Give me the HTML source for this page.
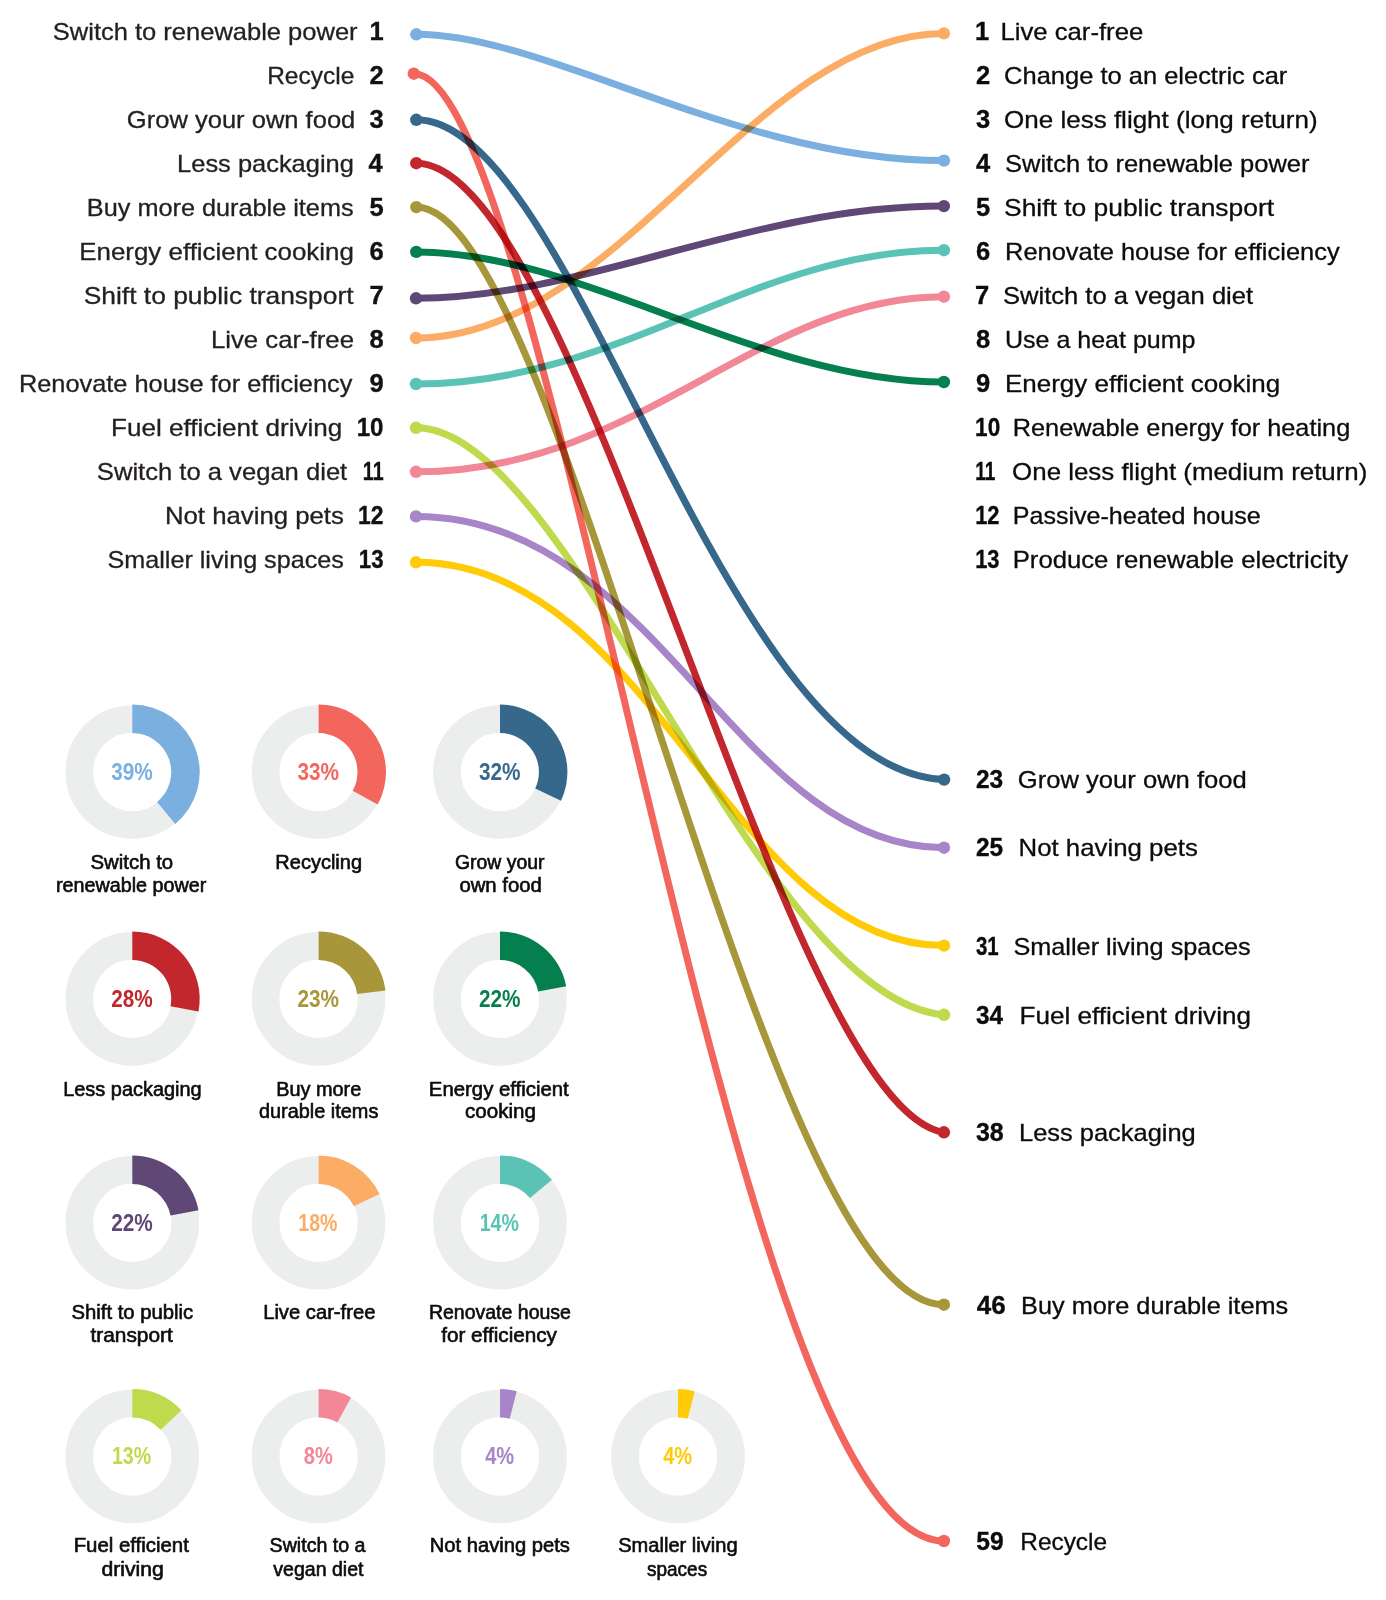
<!DOCTYPE html>
<html lang="en"><head><meta charset="utf-8"><title>Perceived vs actual impact of climate actions</title>
<style>
html,body{margin:0;padding:0;background:#fff}
svg{display:block;font-family:"Liberation Sans",Arial,sans-serif}
</style></head><body>
<svg width="1386" height="1600" viewBox="0 0 1386 1600">
<rect width="1386" height="1600" fill="#fff"/>
<g id="donuts">
<circle cx="132.3" cy="772" r="53.00" fill="none" stroke="#ECEEED" stroke-width="27.60"/>
<path d="M132.30,704.60 A67.40,67.40 0 0 1 175.26,823.93 L157.10,801.97 A38.90,38.90 0 0 0 132.30,733.10 Z" fill="#7AAFE0"/>
<circle cx="318.6" cy="772" r="53.00" fill="none" stroke="#ECEEED" stroke-width="27.60"/>
<path d="M318.60,704.60 A67.40,67.40 0 0 1 377.66,804.47 L352.69,790.74 A38.90,38.90 0 0 0 318.60,733.10 Z" fill="#F2665E"/>
<circle cx="500" cy="772" r="53.00" fill="none" stroke="#ECEEED" stroke-width="27.60"/>
<path d="M500.00,704.60 A67.40,67.40 0 0 1 560.99,800.70 L535.20,788.56 A38.90,38.90 0 0 0 500.00,733.10 Z" fill="#36688C"/>
<circle cx="132.3" cy="998.9" r="53.00" fill="none" stroke="#ECEEED" stroke-width="27.60"/>
<path d="M132.30,931.50 A67.40,67.40 0 0 1 198.51,1011.53 L170.51,1006.19 A38.90,38.90 0 0 0 132.30,960.00 Z" fill="#C1272D"/>
<circle cx="318.6" cy="998.9" r="53.00" fill="none" stroke="#ECEEED" stroke-width="27.60"/>
<path d="M318.60,931.50 A67.40,67.40 0 0 1 385.47,990.45 L357.19,994.02 A38.90,38.90 0 0 0 318.60,960.00 Z" fill="#A8963A"/>
<circle cx="500" cy="998.9" r="53.00" fill="none" stroke="#ECEEED" stroke-width="27.60"/>
<path d="M500.00,931.50 A67.40,67.40 0 0 1 566.21,986.27 L538.21,991.61 A38.90,38.90 0 0 0 500.00,960.00 Z" fill="#067F4E"/>
<circle cx="132.3" cy="1222.8" r="53.00" fill="none" stroke="#ECEEED" stroke-width="27.60"/>
<path d="M132.30,1155.40 A67.40,67.40 0 0 1 198.51,1210.17 L170.51,1215.51 A38.90,38.90 0 0 0 132.30,1183.90 Z" fill="#5F4876"/>
<circle cx="318.6" cy="1222.8" r="53.00" fill="none" stroke="#ECEEED" stroke-width="27.60"/>
<path d="M318.60,1155.40 A67.40,67.40 0 0 1 379.59,1194.10 L353.80,1206.24 A38.90,38.90 0 0 0 318.60,1183.90 Z" fill="#FBAD65"/>
<circle cx="500" cy="1222.8" r="53.00" fill="none" stroke="#ECEEED" stroke-width="27.60"/>
<path d="M500.00,1155.40 A67.40,67.40 0 0 1 551.93,1179.84 L529.97,1198.00 A38.90,38.90 0 0 0 500.00,1183.90 Z" fill="#5BC3B5"/>
<circle cx="132.3" cy="1456.5" r="53.00" fill="none" stroke="#ECEEED" stroke-width="27.60"/>
<path d="M132.30,1389.10 A67.40,67.40 0 0 1 181.43,1410.36 L160.66,1429.87 A38.90,38.90 0 0 0 132.30,1417.60 Z" fill="#BFDA4D"/>
<circle cx="318.6" cy="1456.5" r="53.00" fill="none" stroke="#ECEEED" stroke-width="27.60"/>
<path d="M318.60,1389.10 A67.40,67.40 0 0 1 351.07,1397.44 L337.34,1422.41 A38.90,38.90 0 0 0 318.60,1417.60 Z" fill="#F28797"/>
<circle cx="500" cy="1456.5" r="53.00" fill="none" stroke="#ECEEED" stroke-width="27.60"/>
<path d="M500.00,1389.10 A67.40,67.40 0 0 1 516.76,1391.22 L509.67,1418.82 A38.90,38.90 0 0 0 500.00,1417.60 Z" fill="#A785C8"/>
<circle cx="678" cy="1456.5" r="53.00" fill="none" stroke="#ECEEED" stroke-width="27.60"/>
<path d="M678.00,1389.10 A67.40,67.40 0 0 1 694.76,1391.22 L687.67,1418.82 A38.90,38.90 0 0 0 678.00,1417.60 Z" fill="#FFCB08"/>
</g>
<g id="curves" style="isolation:isolate">
<g style="mix-blend-mode:multiply" fill="#7AAFE0"><path d="M416.3,34.3 C547.4,34.3 738.3,160.6 944.0,160.6" fill="none" stroke="#7AAFE0" stroke-width="7" stroke-linecap="round"/><circle cx="416.3" cy="34.3" r="6.2"/><circle cx="944.0" cy="160.6" r="6.2"/></g>
<g style="mix-blend-mode:multiply" fill="#F2665E"><path d="M413.8,73.7 C551.2,73.7 729.2,1541.0 943.9,1541.0" fill="none" stroke="#F2665E" stroke-width="7" stroke-linecap="round"/><circle cx="413.8" cy="73.7" r="6.2"/><circle cx="943.9" cy="1541.0" r="6.2"/></g>
<g style="mix-blend-mode:multiply" fill="#36688C"><path d="M416.3,119.8 C575.5,119.8 720.2,770.1 944.1,779.6" fill="none" stroke="#36688C" stroke-width="7" stroke-linecap="round"/><circle cx="416.3" cy="119.8" r="6.2"/><circle cx="944.1" cy="779.6" r="6.2"/></g>
<g style="mix-blend-mode:multiply" fill="#C1272D"><path d="M416.3,163.2 C581.2,163.2 782.7,1107.9 943.9,1132.3" fill="none" stroke="#C1272D" stroke-width="7" stroke-linecap="round"/><circle cx="416.3" cy="163.2" r="6.2"/><circle cx="943.9" cy="1132.3" r="6.2"/></g>
<g style="mix-blend-mode:multiply" fill="#A8963A"><path d="M416.3,207.1 C564.4,207.1 761.0,1304.7 943.9,1304.7" fill="none" stroke="#A8963A" stroke-width="7" stroke-linecap="round"/><circle cx="416.3" cy="207.1" r="6.2"/><circle cx="943.9" cy="1304.7" r="6.2"/></g>
<g style="mix-blend-mode:multiply" fill="#067F4E"><path d="M416.3,251.9 C581.3,251.9 759.1,382.0 943.9,382.0" fill="none" stroke="#067F4E" stroke-width="7" stroke-linecap="round"/><circle cx="416.3" cy="251.9" r="6.2"/><circle cx="943.9" cy="382.0" r="6.2"/></g>
<g style="mix-blend-mode:multiply" fill="#5F4876"><path d="M416.0,298.3 C583.3,298.3 750.0,206.1 943.9,206.1" fill="none" stroke="#5F4876" stroke-width="7" stroke-linecap="round"/><circle cx="416.0" cy="298.3" r="6.2"/><circle cx="943.9" cy="206.1" r="6.2"/></g>
<g style="mix-blend-mode:multiply" fill="#FBAD65"><path d="M416.0,338.0 C616.9,338.0 755.1,33.4 943.9,33.4" fill="none" stroke="#FBAD65" stroke-width="7" stroke-linecap="round"/><circle cx="416.0" cy="338.0" r="6.2"/><circle cx="943.9" cy="33.4" r="6.2"/></g>
<g style="mix-blend-mode:multiply" fill="#5BC3B5"><path d="M416.0,384.0 C620.7,384.0 751.9,250.2 943.9,250.2" fill="none" stroke="#5BC3B5" stroke-width="7" stroke-linecap="round"/><circle cx="416.0" cy="384.0" r="6.2"/><circle cx="943.9" cy="250.2" r="6.2"/></g>
<g style="mix-blend-mode:multiply" fill="#BFDA4D"><path d="M416.0,427.8 C572.4,427.8 755.7,998.1 944.0,1014.8" fill="none" stroke="#BFDA4D" stroke-width="7" stroke-linecap="round"/><circle cx="416.0" cy="427.8" r="6.2"/><circle cx="944.0" cy="1014.8" r="6.2"/></g>
<g style="mix-blend-mode:multiply" fill="#F28797"><path d="M416.0,471.8 C639.7,471.8 757.0,296.7 943.9,296.7" fill="none" stroke="#F28797" stroke-width="7" stroke-linecap="round"/><circle cx="416.0" cy="471.8" r="6.2"/><circle cx="943.9" cy="296.7" r="6.2"/></g>
<g style="mix-blend-mode:multiply" fill="#A785C8"><path d="M416.0,516.4 C657.7,516.4 736.0,847.7 944.0,847.7" fill="none" stroke="#A785C8" stroke-width="7" stroke-linecap="round"/><circle cx="416.0" cy="516.4" r="6.2"/><circle cx="944.0" cy="847.7" r="6.2"/></g>
<g style="mix-blend-mode:multiply" fill="#FFCB08"><path d="M416.0,562.3 C652.4,562.3 731.1,945.6 944.0,945.6" fill="none" stroke="#FFCB08" stroke-width="7" stroke-linecap="round"/><circle cx="416.0" cy="562.3" r="6.2"/><circle cx="944.0" cy="945.6" r="6.2"/></g>
</g>
<g id="labels">
<text x="52.84" y="39.6" font-size="24" textLength="304.75" lengthAdjust="spacingAndGlyphs" fill="#231F20" stroke="#231F20" stroke-width="0.3">Switch to renewable power</text>
<text x="369.40" y="39.6" font-size="25.5" fill="#141112" stroke="#141112" stroke-width="0.35" font-weight="bold">1</text>
<text x="267.18" y="83.7" font-size="24" textLength="87.07" lengthAdjust="spacingAndGlyphs" fill="#231F20" stroke="#231F20" stroke-width="0.3">Recycle</text>
<text x="369.40" y="83.7" font-size="25.5" fill="#141112" stroke="#141112" stroke-width="0.35" font-weight="bold">2</text>
<text x="126.84" y="127.8" font-size="24" textLength="228.50" lengthAdjust="spacingAndGlyphs" fill="#231F20" stroke="#231F20" stroke-width="0.3">Grow your own food</text>
<text x="369.40" y="127.8" font-size="25.5" fill="#141112" stroke="#141112" stroke-width="0.35" font-weight="bold">3</text>
<text x="177.14" y="171.8" font-size="24" textLength="176.69" lengthAdjust="spacingAndGlyphs" fill="#231F20" stroke="#231F20" stroke-width="0.3">Less packaging</text>
<text x="368.40" y="171.8" font-size="25.5" fill="#141112" stroke="#141112" stroke-width="0.35" font-weight="bold">4</text>
<text x="86.85" y="215.8" font-size="24" textLength="266.75" lengthAdjust="spacingAndGlyphs" fill="#231F20" stroke="#231F20" stroke-width="0.3">Buy more durable items</text>
<text x="369.40" y="215.8" font-size="25.5" fill="#141112" stroke="#141112" stroke-width="0.35" font-weight="bold">5</text>
<text x="79.22" y="259.9" font-size="24" textLength="274.63" lengthAdjust="spacingAndGlyphs" fill="#231F20" stroke="#231F20" stroke-width="0.3">Energy efficient cooking</text>
<text x="369.40" y="259.9" font-size="25.5" fill="#141112" stroke="#141112" stroke-width="0.35" font-weight="bold">6</text>
<text x="83.70" y="303.9" font-size="24" textLength="269.83" lengthAdjust="spacingAndGlyphs" fill="#231F20" stroke="#231F20" stroke-width="0.3">Shift to public transport</text>
<text x="369.40" y="303.9" font-size="25.5" fill="#141112" stroke="#141112" stroke-width="0.35" font-weight="bold">7</text>
<text x="210.93" y="348.0" font-size="24" textLength="143.05" lengthAdjust="spacingAndGlyphs" fill="#231F20" stroke="#231F20" stroke-width="0.3">Live car-free</text>
<text x="369.40" y="348.0" font-size="25.5" fill="#141112" stroke="#141112" stroke-width="0.35" font-weight="bold">8</text>
<text x="18.94" y="392.0" font-size="24" textLength="333.46" lengthAdjust="spacingAndGlyphs" fill="#231F20" stroke="#231F20" stroke-width="0.3">Renovate house for efficiency</text>
<text x="369.40" y="392.0" font-size="25.5" fill="#141112" stroke="#141112" stroke-width="0.35" font-weight="bold">9</text>
<text x="111.01" y="436.1" font-size="24" textLength="231.35" lengthAdjust="spacingAndGlyphs" fill="#231F20" stroke="#231F20" stroke-width="0.3">Fuel efficient driving</text>
<text x="356.65" y="436.1" font-size="25.5" textLength="26.92" lengthAdjust="spacingAndGlyphs" fill="#141112" stroke="#141112" stroke-width="0.35" font-weight="bold">10</text>
<text x="96.83" y="480.1" font-size="24" textLength="250.41" lengthAdjust="spacingAndGlyphs" fill="#231F20" stroke="#231F20" stroke-width="0.3">Switch to a vegan diet</text>
<text x="362.83" y="480.1" font-size="25.5" textLength="20.71" lengthAdjust="spacingAndGlyphs" fill="#141112" stroke="#141112" stroke-width="0.35" font-weight="bold">11</text>
<text x="164.93" y="524.2" font-size="24" textLength="178.97" lengthAdjust="spacingAndGlyphs" fill="#231F20" stroke="#231F20" stroke-width="0.3">Not having pets</text>
<text x="358.10" y="524.2" font-size="25.5" textLength="25.46" lengthAdjust="spacingAndGlyphs" fill="#141112" stroke="#141112" stroke-width="0.35" font-weight="bold">12</text>
<text x="107.45" y="568.2" font-size="24" textLength="236.45" lengthAdjust="spacingAndGlyphs" fill="#231F20" stroke="#231F20" stroke-width="0.3">Smaller living spaces</text>
<text x="358.83" y="568.2" font-size="25.5" textLength="24.73" lengthAdjust="spacingAndGlyphs" fill="#141112" stroke="#141112" stroke-width="0.35" font-weight="bold">13</text>
<text x="975.00" y="39.6" font-size="25.5" fill="#0c0c0c" stroke="#0c0c0c" stroke-width="0.35" font-weight="bold">1</text>
<text x="1000.43" y="39.6" font-size="24" textLength="142.84" lengthAdjust="spacingAndGlyphs" fill="#0c0c0c" stroke="#0c0c0c" stroke-width="0.3">Live car-free</text>
<text x="976.00" y="83.7" font-size="25.5" fill="#0c0c0c" stroke="#0c0c0c" stroke-width="0.35" font-weight="bold">2</text>
<text x="1004.14" y="83.7" font-size="24" textLength="283.15" lengthAdjust="spacingAndGlyphs" fill="#0c0c0c" stroke="#0c0c0c" stroke-width="0.3">Change to an electric car</text>
<text x="976.00" y="127.8" font-size="25.5" fill="#0c0c0c" stroke="#0c0c0c" stroke-width="0.35" font-weight="bold">3</text>
<text x="1004.12" y="127.8" font-size="24" textLength="313.46" lengthAdjust="spacingAndGlyphs" fill="#0c0c0c" stroke="#0c0c0c" stroke-width="0.3">One less flight (long return)</text>
<text x="976.00" y="171.8" font-size="25.5" fill="#0c0c0c" stroke="#0c0c0c" stroke-width="0.35" font-weight="bold">4</text>
<text x="1005.04" y="171.8" font-size="24" textLength="304.45" lengthAdjust="spacingAndGlyphs" fill="#0c0c0c" stroke="#0c0c0c" stroke-width="0.3">Switch to renewable power</text>
<text x="976.00" y="215.8" font-size="25.5" fill="#0c0c0c" stroke="#0c0c0c" stroke-width="0.35" font-weight="bold">5</text>
<text x="1004.10" y="215.8" font-size="24" textLength="269.93" lengthAdjust="spacingAndGlyphs" fill="#0c0c0c" stroke="#0c0c0c" stroke-width="0.3">Shift to public transport</text>
<text x="976.00" y="259.9" font-size="25.5" fill="#0c0c0c" stroke="#0c0c0c" stroke-width="0.35" font-weight="bold">6</text>
<text x="1005.04" y="259.9" font-size="24" textLength="334.56" lengthAdjust="spacingAndGlyphs" fill="#0c0c0c" stroke="#0c0c0c" stroke-width="0.3">Renovate house for efficiency</text>
<text x="975.00" y="303.9" font-size="25.5" fill="#0c0c0c" stroke="#0c0c0c" stroke-width="0.35" font-weight="bold">7</text>
<text x="1002.93" y="303.9" font-size="24" textLength="250.21" lengthAdjust="spacingAndGlyphs" fill="#0c0c0c" stroke="#0c0c0c" stroke-width="0.3">Switch to a vegan diet</text>
<text x="976.00" y="348.0" font-size="25.5" fill="#0c0c0c" stroke="#0c0c0c" stroke-width="0.35" font-weight="bold">8</text>
<text x="1005.06" y="348.0" font-size="24" textLength="190.40" lengthAdjust="spacingAndGlyphs" fill="#0c0c0c" stroke="#0c0c0c" stroke-width="0.3">Use a heat pump</text>
<text x="976.00" y="392.0" font-size="25.5" fill="#0c0c0c" stroke="#0c0c0c" stroke-width="0.35" font-weight="bold">9</text>
<text x="1005.02" y="392.0" font-size="24" textLength="275.14" lengthAdjust="spacingAndGlyphs" fill="#0c0c0c" stroke="#0c0c0c" stroke-width="0.3">Energy efficient cooking</text>
<text x="975.12" y="436.1" font-size="25.5" textLength="25.04" lengthAdjust="spacingAndGlyphs" fill="#0c0c0c" stroke="#0c0c0c" stroke-width="0.35" font-weight="bold">10</text>
<text x="1012.75" y="436.1" font-size="24" textLength="337.47" lengthAdjust="spacingAndGlyphs" fill="#0c0c0c" stroke="#0c0c0c" stroke-width="0.3">Renewable energy for heating</text>
<text x="975.25" y="480.1" font-size="25.5" textLength="20.18" lengthAdjust="spacingAndGlyphs" fill="#0c0c0c" stroke="#0c0c0c" stroke-width="0.35" font-weight="bold">11</text>
<text x="1012.12" y="480.1" font-size="24" textLength="355.25" lengthAdjust="spacingAndGlyphs" fill="#0c0c0c" stroke="#0c0c0c" stroke-width="0.3">One less flight (medium return)</text>
<text x="975.14" y="524.2" font-size="25.5" textLength="24.31" lengthAdjust="spacingAndGlyphs" fill="#0c0c0c" stroke="#0c0c0c" stroke-width="0.35" font-weight="bold">12</text>
<text x="1012.76" y="524.2" font-size="24" textLength="247.91" lengthAdjust="spacingAndGlyphs" fill="#0c0c0c" stroke="#0c0c0c" stroke-width="0.3">Passive-heated house</text>
<text x="975.14" y="568.2" font-size="25.5" textLength="24.31" lengthAdjust="spacingAndGlyphs" fill="#0c0c0c" stroke="#0c0c0c" stroke-width="0.35" font-weight="bold">13</text>
<text x="1012.73" y="568.2" font-size="24" textLength="335.47" lengthAdjust="spacingAndGlyphs" fill="#0c0c0c" stroke="#0c0c0c" stroke-width="0.3">Produce renewable electricity</text>
<text x="975.90" y="788.0" font-size="25.5" textLength="27.17" lengthAdjust="spacingAndGlyphs" fill="#0c0c0c" stroke="#0c0c0c" stroke-width="0.35" font-weight="bold">23</text>
<text x="1017.83" y="788.0" font-size="24" textLength="228.90" lengthAdjust="spacingAndGlyphs" fill="#0c0c0c" stroke="#0c0c0c" stroke-width="0.3">Grow your own food</text>
<text x="975.90" y="855.5" font-size="25.5" textLength="27.17" lengthAdjust="spacingAndGlyphs" fill="#0c0c0c" stroke="#0c0c0c" stroke-width="0.35" font-weight="bold">25</text>
<text x="1018.52" y="855.5" font-size="24" textLength="179.38" lengthAdjust="spacingAndGlyphs" fill="#0c0c0c" stroke="#0c0c0c" stroke-width="0.3">Not having pets</text>
<text x="975.90" y="954.8" font-size="25.5" textLength="22.75" lengthAdjust="spacingAndGlyphs" fill="#0c0c0c" stroke="#0c0c0c" stroke-width="0.35" font-weight="bold">31</text>
<text x="1013.45" y="954.8" font-size="24" textLength="237.25" lengthAdjust="spacingAndGlyphs" fill="#0c0c0c" stroke="#0c0c0c" stroke-width="0.3">Smaller living spaces</text>
<text x="975.90" y="1023.5" font-size="25.5" textLength="27.02" lengthAdjust="spacingAndGlyphs" fill="#0c0c0c" stroke="#0c0c0c" stroke-width="0.35" font-weight="bold">34</text>
<text x="1019.51" y="1023.5" font-size="24" textLength="231.45" lengthAdjust="spacingAndGlyphs" fill="#0c0c0c" stroke="#0c0c0c" stroke-width="0.3">Fuel efficient driving</text>
<text x="975.90" y="1140.5" font-size="25.5" textLength="27.78" lengthAdjust="spacingAndGlyphs" fill="#0c0c0c" stroke="#0c0c0c" stroke-width="0.35" font-weight="bold">38</text>
<text x="1019.04" y="1140.5" font-size="24" textLength="176.69" lengthAdjust="spacingAndGlyphs" fill="#0c0c0c" stroke="#0c0c0c" stroke-width="0.3">Less packaging</text>
<text x="976.70" y="1314.2" font-size="25.5" textLength="28.89" lengthAdjust="spacingAndGlyphs" fill="#0c0c0c" stroke="#0c0c0c" stroke-width="0.35" font-weight="bold">46</text>
<text x="1021.05" y="1314.2" font-size="24" textLength="267.15" lengthAdjust="spacingAndGlyphs" fill="#0c0c0c" stroke="#0c0c0c" stroke-width="0.3">Buy more durable items</text>
<text x="976.30" y="1550.3" font-size="25.5" textLength="27.38" lengthAdjust="spacingAndGlyphs" fill="#0c0c0c" stroke="#0c0c0c" stroke-width="0.35" font-weight="bold">59</text>
<text x="1020.28" y="1550.3" font-size="24" textLength="86.77" lengthAdjust="spacingAndGlyphs" fill="#0c0c0c" stroke="#0c0c0c" stroke-width="0.3">Recycle</text>
<text x="90.50" y="869.0" font-size="19.5" textLength="82.64" lengthAdjust="spacingAndGlyphs" fill="#0c0c0c" stroke="#0c0c0c" stroke-width="0.6">Switch to</text>
<text x="55.99" y="892.0" font-size="19.5" textLength="150.40" lengthAdjust="spacingAndGlyphs" fill="#0c0c0c" stroke="#0c0c0c" stroke-width="0.6">renewable power</text>
<text x="111.20" y="779.8" font-size="23.6" textLength="41.58" lengthAdjust="spacingAndGlyphs" fill="#7AAFE0" font-weight="bold">39%</text>
<text x="275.37" y="869.0" font-size="19.5" textLength="86.69" lengthAdjust="spacingAndGlyphs" fill="#0c0c0c" stroke="#0c0c0c" stroke-width="0.6">Recycling</text>
<text x="297.50" y="779.8" font-size="23.6" textLength="41.58" lengthAdjust="spacingAndGlyphs" fill="#F2665E" font-weight="bold">33%</text>
<text x="455.00" y="869.0" font-size="19.5" textLength="89.50" lengthAdjust="spacingAndGlyphs" fill="#0c0c0c" stroke="#0c0c0c" stroke-width="0.6">Grow your</text>
<text x="459.40" y="892.0" font-size="19.5" textLength="82.48" lengthAdjust="spacingAndGlyphs" fill="#0c0c0c" stroke="#0c0c0c" stroke-width="0.6">own food</text>
<text x="478.90" y="779.8" font-size="23.6" textLength="41.58" lengthAdjust="spacingAndGlyphs" fill="#36688C" font-weight="bold">32%</text>
<text x="63.18" y="1095.9" font-size="19.5" textLength="138.49" lengthAdjust="spacingAndGlyphs" fill="#0c0c0c" stroke="#0c0c0c" stroke-width="0.6">Less packaging</text>
<text x="111.20" y="1006.7" font-size="23.6" textLength="41.58" lengthAdjust="spacingAndGlyphs" fill="#C1272D" font-weight="bold">28%</text>
<text x="276.18" y="1095.9" font-size="19.5" textLength="85.08" lengthAdjust="spacingAndGlyphs" fill="#0c0c0c" stroke="#0c0c0c" stroke-width="0.6">Buy more</text>
<text x="259.00" y="1118.0" font-size="19.5" textLength="119.35" lengthAdjust="spacingAndGlyphs" fill="#0c0c0c" stroke="#0c0c0c" stroke-width="0.6">durable items</text>
<text x="297.50" y="1006.7" font-size="23.6" textLength="41.58" lengthAdjust="spacingAndGlyphs" fill="#A8963A" font-weight="bold">23%</text>
<text x="428.86" y="1095.9" font-size="19.5" textLength="139.84" lengthAdjust="spacingAndGlyphs" fill="#0c0c0c" stroke="#0c0c0c" stroke-width="0.6">Energy efficient</text>
<text x="465.00" y="1118.0" font-size="19.5" textLength="70.89" lengthAdjust="spacingAndGlyphs" fill="#0c0c0c" stroke="#0c0c0c" stroke-width="0.6">cooking</text>
<text x="478.90" y="1006.7" font-size="23.6" textLength="41.58" lengthAdjust="spacingAndGlyphs" fill="#067F4E" font-weight="bold">22%</text>
<text x="71.50" y="1318.6" font-size="19.5" textLength="121.74" lengthAdjust="spacingAndGlyphs" fill="#0c0c0c" stroke="#0c0c0c" stroke-width="0.6">Shift to public</text>
<text x="90.50" y="1342.0" font-size="19.5" textLength="82.18" lengthAdjust="spacingAndGlyphs" fill="#0c0c0c" stroke="#0c0c0c" stroke-width="0.6">transport</text>
<text x="111.20" y="1230.6" font-size="23.6" textLength="41.58" lengthAdjust="spacingAndGlyphs" fill="#5F4876" font-weight="bold">22%</text>
<text x="263.16" y="1318.6" font-size="19.5" textLength="112.21" lengthAdjust="spacingAndGlyphs" fill="#0c0c0c" stroke="#0c0c0c" stroke-width="0.6">Live car-free</text>
<text x="298.27" y="1230.6" font-size="23.6" textLength="39.21" lengthAdjust="spacingAndGlyphs" fill="#FBAD65" font-weight="bold">18%</text>
<text x="428.90" y="1318.6" font-size="19.5" textLength="142.05" lengthAdjust="spacingAndGlyphs" fill="#0c0c0c" stroke="#0c0c0c" stroke-width="0.6">Renovate house</text>
<text x="441.20" y="1342.0" font-size="19.5" textLength="115.73" lengthAdjust="spacingAndGlyphs" fill="#0c0c0c" stroke="#0c0c0c" stroke-width="0.6">for efficiency</text>
<text x="479.67" y="1230.6" font-size="23.6" textLength="39.21" lengthAdjust="spacingAndGlyphs" fill="#5BC3B5" font-weight="bold">14%</text>
<text x="73.65" y="1551.5" font-size="19.5" textLength="115.24" lengthAdjust="spacingAndGlyphs" fill="#0c0c0c" stroke="#0c0c0c" stroke-width="0.6">Fuel efficient</text>
<text x="101.40" y="1575.6" font-size="19.5" textLength="62.32" lengthAdjust="spacingAndGlyphs" fill="#0c0c0c" stroke="#0c0c0c" stroke-width="0.6">driving</text>
<text x="111.97" y="1464.3" font-size="23.6" textLength="39.21" lengthAdjust="spacingAndGlyphs" fill="#BFDA4D" font-weight="bold">13%</text>
<text x="269.60" y="1551.5" font-size="19.5" textLength="95.94" lengthAdjust="spacingAndGlyphs" fill="#0c0c0c" stroke="#0c0c0c" stroke-width="0.6">Switch to a</text>
<text x="273.30" y="1575.6" font-size="19.5" textLength="90.22" lengthAdjust="spacingAndGlyphs" fill="#0c0c0c" stroke="#0c0c0c" stroke-width="0.6">vegan diet</text>
<text x="303.80" y="1464.3" font-size="23.6" textLength="28.98" lengthAdjust="spacingAndGlyphs" fill="#F28797" font-weight="bold">8%</text>
<text x="429.77" y="1551.5" font-size="19.5" textLength="140.18" lengthAdjust="spacingAndGlyphs" fill="#0c0c0c" stroke="#0c0c0c" stroke-width="0.6">Not having pets</text>
<text x="485.20" y="1464.3" font-size="23.6" textLength="28.98" lengthAdjust="spacingAndGlyphs" fill="#A785C8" font-weight="bold">4%</text>
<text x="618.20" y="1551.5" font-size="19.5" textLength="119.37" lengthAdjust="spacingAndGlyphs" fill="#0c0c0c" stroke="#0c0c0c" stroke-width="0.6">Smaller living</text>
<text x="647.00" y="1575.6" font-size="19.5" textLength="60.16" lengthAdjust="spacingAndGlyphs" fill="#0c0c0c" stroke="#0c0c0c" stroke-width="0.6">spaces</text>
<text x="663.20" y="1464.3" font-size="23.6" textLength="28.98" lengthAdjust="spacingAndGlyphs" fill="#FFCB08" font-weight="bold">4%</text>
</g>
</svg>
</body></html>
